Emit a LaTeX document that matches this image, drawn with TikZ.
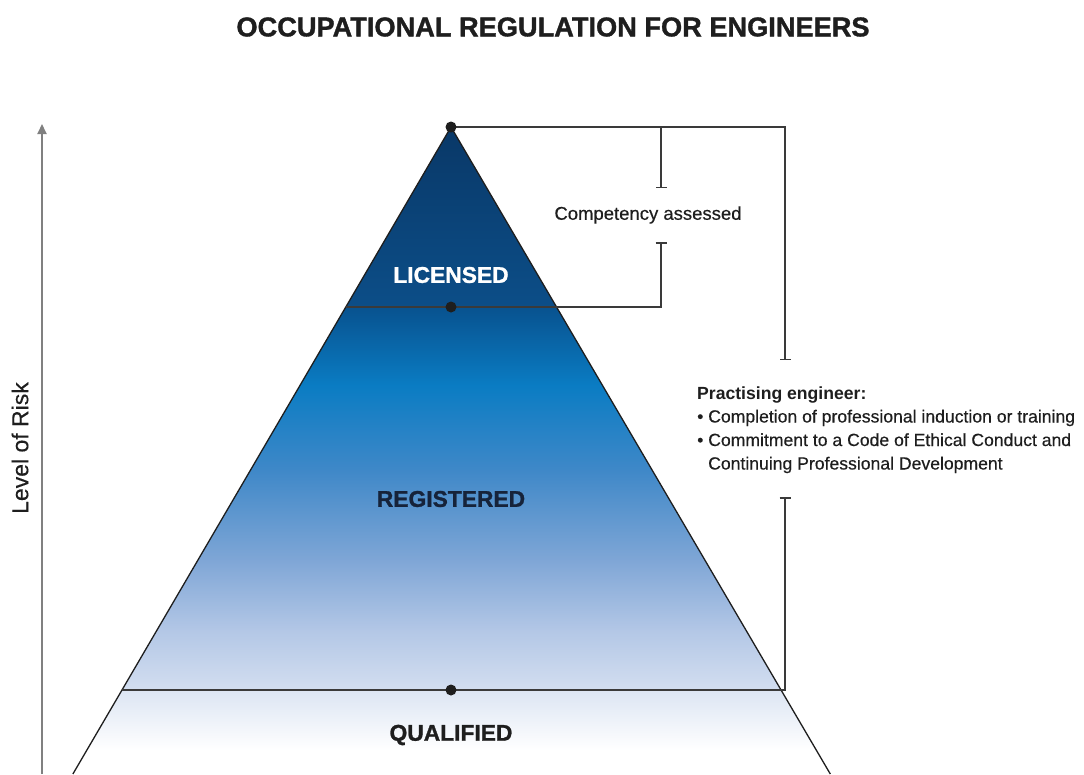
\documentclass[tikz,border=0pt]{standalone}
\usepackage{fontspec}
\setmainfont{Liberation Sans}
\newfontfamily\heavyfont{Liberation Sans Bold}[FakeBold=1.2]
\newfontfamily\bodyfont{Liberation Sans}[FakeBold=0.35]
\newfontfamily\semifont{Liberation Sans Bold}
\usetikzlibrary{arrows.meta}
\definecolor{navyA}{HTML}{093766}
\definecolor{navyB}{HTML}{0C4E88}
\definecolor{blueA}{HTML}{08528F}
\definecolor{blueB}{HTML}{0A7CC3}
\definecolor{blueC}{HTML}{3F88C8}
\definecolor{blueD}{HTML}{7FA6D6}
\definecolor{blueE}{HTML}{B3C7E6}
\definecolor{blueF}{HTML}{D3DEF0}
\definecolor{paleA}{HTML}{DCE5F3}
\definecolor{linegray}{HTML}{3A3A3A}
\definecolor{arrowgray}{HTML}{808080}
\definecolor{inkdark}{HTML}{1E1E1E}
\definecolor{regink}{HTML}{16233A}
\begin{document}
\begin{tikzpicture}[x=1pt,y=-1pt,
  edge/.style={draw=inkdark,line width=1.3pt},
  bracketline/.style={draw=linegray,line width=1.5pt},
  capend/.style={-{Bar[width=11pt,line width=1.5pt]}},
  capstart/.style={{Bar[width=11pt,line width=1.5pt]}-},
  dot/.style={circle,fill=inkdark,inner sep=0pt,minimum size=11pt},
  tierlabel/.style={font=\heavyfont\fontsize{22.8}{26}\selectfont},
  bodytext/.style={font=\bodyfont\fontsize{17.6}{20}\selectfont,text=inkdark,inner sep=0pt}
]
\useasboundingbox (0,0) rectangle (1084,774);
\fill[white] (0,0) rectangle (1084,774);

% key coordinates
\coordinate (apex) at (451,127);
\coordinate (bl) at (72.9,774);
\coordinate (br) at (830.3,774);
\coordinate (licL) at (345.8,307);
\coordinate (regL) at (122,690);
\coordinate (regR) at (785,690);
\coordinate (cbTop) at (661,127);
\coordinate (cbTopEnd) at (661,188);
\coordinate (cbBot) at (661,307);
\coordinate (cbBotEnd) at (661,242);
\coordinate (bbTop) at (785,127);
\coordinate (bbTopEnd) at (785,360);
\coordinate (bbBotEnd) at (785,497);
\coordinate (arrBase) at (42,774);
\coordinate (arrTip) at (42,124);

% gradient fill of the pyramid
\begin{scope}
  \clip (apex) -- (bl) -- (br) -- cycle;
  \shade[top color=navyA,bottom color=navyB] (0,120) rectangle (1084,307.5);
  \shade[top color=blueA,bottom color=blueB] (0,307) rectangle (1084,385.5);
  \shade[top color=blueB,bottom color=blueC] (0,385) rectangle (1084,470.5);
  \shade[top color=blueC,bottom color=blueD] (0,470) rectangle (1084,560.5);
  \shade[top color=blueD,bottom color=blueE] (0,560) rectangle (1084,630.5);
  \shade[top color=blueE,bottom color=blueF] (0,630) rectangle (1084,690.5);
  \shade[top color=paleA,bottom color=white] (0,690) rectangle (1084,750);
\end{scope}

% pyramid outline
\draw[edge] (bl) -- (apex) -- (br);

% axis arrow
\draw[draw=arrowgray,line width=2pt,-{Triangle[width=9pt,length=10pt]}] (arrBase) -- (arrTip);
\node[rotate=90,font=\bodyfont\fontsize{23}{26}\selectfont,text=inkdark] (risk) at (20,448) {Level of Risk};

% brackets
\draw[bracketline] (apex) -- (bbTop) -- (bbTopEnd) [capend];
\draw[bracketline,capend] (cbTop) -- (cbTopEnd);
\draw[bracketline,capend] (licL) -- (cbBot) -- (cbBotEnd);
\draw[bracketline,capstart] (bbBotEnd) -- (regR) -- (regL);

% dots
\node[dot] (dTop) at (apex) {};
\node[dot] (dMid) at (451,307) {};
\node[dot] (dBase) at (451,690) {};

% tier labels
\node[tierlabel,text=white] (lic) at (451,275) {LICENSED};
\node[tierlabel,text=regink] (reg) at (451,499) {REGISTERED};
\node[tierlabel,text=inkdark] (qual) at (451,735) {QUALIFIED};

% title
\node[font=\heavyfont\fontsize{27.2}{30}\selectfont,text=inkdark] (title) at (553,27) {OCCUPATIONAL REGULATION FOR ENGINEERS};

% annotations
\node[font=\bodyfont\fontsize{18.5}{20}\selectfont,text=inkdark] (comp) at (648,215) {Competency assessed};
\node[bodytext,anchor=base west,font=\semifont\fontsize{17.6}{20}\selectfont] (p1) at (697,399) {Practising engineer:};
\node[bodytext,anchor=base west] (p2) at (697,422.5) {• Completion of professional induction or training};
\node[bodytext,anchor=base west] (p3) at (697,446) {• Commitment to a Code of Ethical Conduct and};
\node[bodytext,anchor=base west] (p4) at (708,469.5) {Continuing Professional Development};
\end{tikzpicture}
\end{document}
